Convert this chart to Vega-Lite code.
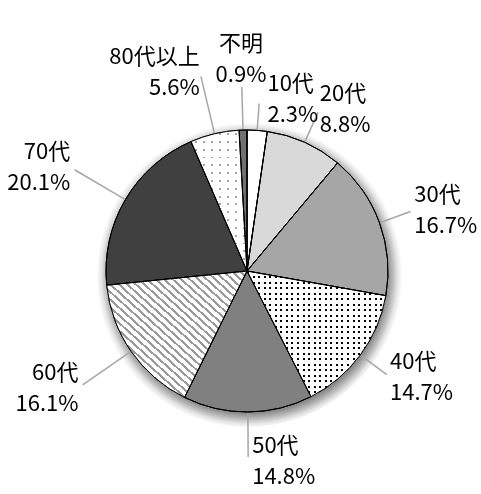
{
  "$schema": "https://vega.github.io/schema/vega-lite/v6.json",
  "width": 468,
  "height": 446,
  "autosize": {"type": "none"},
  "padding": {"left": 13, "top": 48, "right": 0, "bottom": 0},
  "background": "#ffffff",
  "view": {"stroke": null},
  "config": {"text": {"font": "Noto Sans CJK JP", "fontSize": 22, "lineHeight": 31, "lineBreak": "\n", "fill": "#000000", "baseline": "middle", "dy": -15}},
  "data": {"values": [
    {"cat": "10代", "v": 2.3, "i": 1, "label": "10代\n2.3%"},
    {"cat": "20代", "v": 8.8, "i": 2, "label": "20代\n8.8%"},
    {"cat": "30代", "v": 16.7, "i": 3, "label": "30代\n16.7%"},
    {"cat": "40代", "v": 14.7, "i": 4, "label": "40代\n14.7%"},
    {"cat": "50代", "v": 14.8, "i": 5, "label": "50代\n14.8%"},
    {"cat": "60代", "v": 16.1, "i": 6, "label": "60代\n16.1%"},
    {"cat": "70代", "v": 20.1, "i": 7, "label": "70代\n20.1%"},
    {"cat": "80代以上", "v": 5.6, "i": 8, "label": "80代以上\n5.6%"},
    {"cat": "不明", "v": 0.9, "i": 9, "label": "不明\n0.9%"}
  ]},
  "transform": [
    {"stack": "v", "groupby": [], "sort": [{"field": "i", "order": "ascending"}], "as": ["s", "e"]},
    {"fold": ["s", "e"], "as": ["k", "a"]},
    {"aggregate": [{"op": "mean", "field": "a", "as": "mid"}, {"op": "min", "field": "a", "as": "s0"}, {"op": "max", "field": "a", "as": "e0"}], "groupby": ["cat", "v", "i", "label"]}
  ],
  "layer": [
    {
      "data": {"values": [{"glow": 1}]},
      "mark": {"type": "arc", "theta": 0, "theta2": 6.2832, "outerRadius": 156, "innerRadius": 0,
        "fill": {"gradient": "radial", "x1": 0.5, "y1": 0.5, "r1": 0, "x2": 0.508, "y2": 0.515, "r2": 0.49,
          "stops": [{"offset": 0, "color": "#888888"}, {"offset": 0.9, "color": "#888888"}, {"offset": 0.935, "color": "#b5b5b5"}, {"offset": 0.97, "color": "#e6e6e6"}, {"offset": 1, "color": "#ffffff"}]}},
      "encoding": {}
    },
    {
      "mark": {"type": "arc", "outerRadius": 141, "stroke": "#000000", "strokeWidth": 1},
      "encoding": {
        "theta": {"field": "v", "type": "quantitative", "stack": true, "scale": {"domain": [0, 100]}},
        "order": {"field": "i", "type": "quantitative"},
        "color": {"field": "cat", "type": "nominal", "legend": null,
          "scale": {"domain": ["10代", "20代", "30代", "40代", "50代", "60代", "70代", "80代以上", "不明"],
            "range": ["#ffffff", "#d9d9d9", "#a6a6a6", "#ffffff", "#808080", "#ffffff", "#404040", "#ffffff", "#707070"]}}
      }
    },
    {
      "transform": [{"filter": {"field": "cat", "equal": "40代"}}],
      "layer": [
        {"mark": {"type": "arc", "outerRadius": 141,
          "fill": {"gradient": "linear", "x1": 0, "y1": 0, "x2": 0, "y2": 1, "stops": [
            {"offset": 0, "color": "#000"}, {"offset": 0.0157, "color": "#000"}, {"offset": 0.0157, "color": "#fff"}, {"offset": 0.0435, "color": "#fff"},
            {"offset": 0.0435, "color": "#000"}, {"offset": 0.0591, "color": "#000"}, {"offset": 0.0591, "color": "#fff"}, {"offset": 0.087, "color": "#fff"},
            {"offset": 0.087, "color": "#000"}, {"offset": 0.1026, "color": "#000"}, {"offset": 0.1026, "color": "#fff"}, {"offset": 0.1304, "color": "#fff"},
            {"offset": 0.1304, "color": "#000"}, {"offset": 0.1461, "color": "#000"}, {"offset": 0.1461, "color": "#fff"}, {"offset": 0.1739, "color": "#fff"},
            {"offset": 0.1739, "color": "#000"}, {"offset": 0.1896, "color": "#000"}, {"offset": 0.1896, "color": "#fff"}, {"offset": 0.2174, "color": "#fff"},
            {"offset": 0.2174, "color": "#000"}, {"offset": 0.233, "color": "#000"}, {"offset": 0.233, "color": "#fff"}, {"offset": 0.2609, "color": "#fff"},
            {"offset": 0.2609, "color": "#000"}, {"offset": 0.2765, "color": "#000"}, {"offset": 0.2765, "color": "#fff"}, {"offset": 0.3043, "color": "#fff"},
            {"offset": 0.3043, "color": "#000"}, {"offset": 0.32, "color": "#000"}, {"offset": 0.32, "color": "#fff"}, {"offset": 0.3478, "color": "#fff"},
            {"offset": 0.3478, "color": "#000"}, {"offset": 0.3635, "color": "#000"}, {"offset": 0.3635, "color": "#fff"}, {"offset": 0.3913, "color": "#fff"},
            {"offset": 0.3913, "color": "#000"}, {"offset": 0.407, "color": "#000"}, {"offset": 0.407, "color": "#fff"}, {"offset": 0.4348, "color": "#fff"},
            {"offset": 0.4348, "color": "#000"}, {"offset": 0.4504, "color": "#000"}, {"offset": 0.4504, "color": "#fff"}, {"offset": 0.4783, "color": "#fff"},
            {"offset": 0.4783, "color": "#000"}, {"offset": 0.4939, "color": "#000"}, {"offset": 0.4939, "color": "#fff"}, {"offset": 0.5217, "color": "#fff"},
            {"offset": 0.5217, "color": "#000"}, {"offset": 0.5374, "color": "#000"}, {"offset": 0.5374, "color": "#fff"}, {"offset": 0.5652, "color": "#fff"},
            {"offset": 0.5652, "color": "#000"}, {"offset": 0.5809, "color": "#000"}, {"offset": 0.5809, "color": "#fff"}, {"offset": 0.6087, "color": "#fff"},
            {"offset": 0.6087, "color": "#000"}, {"offset": 0.6243, "color": "#000"}, {"offset": 0.6243, "color": "#fff"}, {"offset": 0.6522, "color": "#fff"},
            {"offset": 0.6522, "color": "#000"}, {"offset": 0.6678, "color": "#000"}, {"offset": 0.6678, "color": "#fff"}, {"offset": 0.6957, "color": "#fff"},
            {"offset": 0.6957, "color": "#000"}, {"offset": 0.7113, "color": "#000"}, {"offset": 0.7113, "color": "#fff"}, {"offset": 0.7391, "color": "#fff"},
            {"offset": 0.7391, "color": "#000"}, {"offset": 0.7548, "color": "#000"}, {"offset": 0.7548, "color": "#fff"}, {"offset": 0.7826, "color": "#fff"},
            {"offset": 0.7826, "color": "#000"}, {"offset": 0.7983, "color": "#000"}, {"offset": 0.7983, "color": "#fff"}, {"offset": 0.8261, "color": "#fff"},
            {"offset": 0.8261, "color": "#000"}, {"offset": 0.8417, "color": "#000"}, {"offset": 0.8417, "color": "#fff"}, {"offset": 0.8696, "color": "#fff"},
            {"offset": 0.8696, "color": "#000"}, {"offset": 0.8852, "color": "#000"}, {"offset": 0.8852, "color": "#fff"}, {"offset": 0.913, "color": "#fff"},
            {"offset": 0.913, "color": "#000"}, {"offset": 0.9287, "color": "#000"}, {"offset": 0.9287, "color": "#fff"}, {"offset": 0.9565, "color": "#fff"},
            {"offset": 0.9565, "color": "#000"}, {"offset": 0.9722, "color": "#000"}, {"offset": 0.9722, "color": "#fff"}, {"offset": 1, "color": "#fff"}
          ]}},
          "encoding": {"theta": {"field": "s0", "type": "quantitative", "stack": null, "scale": {"domain": [0, 100]}}, "theta2": {"field": "e0"}}},
        {"mark": {"type": "arc", "outerRadius": 141, "blend": "screen",
          "fill": {"gradient": "linear", "x1": 0, "y1": 0, "x2": 1, "y2": 0, "stops": [
            {"offset": 0, "color": "#000"}, {"offset": 0.0144, "color": "#000"}, {"offset": 0.0144, "color": "#fff"}, {"offset": 0.04, "color": "#fff"},
            {"offset": 0.04, "color": "#000"}, {"offset": 0.0544, "color": "#000"}, {"offset": 0.0544, "color": "#fff"}, {"offset": 0.08, "color": "#fff"},
            {"offset": 0.08, "color": "#000"}, {"offset": 0.0944, "color": "#000"}, {"offset": 0.0944, "color": "#fff"}, {"offset": 0.12, "color": "#fff"},
            {"offset": 0.12, "color": "#000"}, {"offset": 0.1344, "color": "#000"}, {"offset": 0.1344, "color": "#fff"}, {"offset": 0.16, "color": "#fff"},
            {"offset": 0.16, "color": "#000"}, {"offset": 0.1744, "color": "#000"}, {"offset": 0.1744, "color": "#fff"}, {"offset": 0.2, "color": "#fff"},
            {"offset": 0.2, "color": "#000"}, {"offset": 0.2144, "color": "#000"}, {"offset": 0.2144, "color": "#fff"}, {"offset": 0.24, "color": "#fff"},
            {"offset": 0.24, "color": "#000"}, {"offset": 0.2544, "color": "#000"}, {"offset": 0.2544, "color": "#fff"}, {"offset": 0.28, "color": "#fff"},
            {"offset": 0.28, "color": "#000"}, {"offset": 0.2944, "color": "#000"}, {"offset": 0.2944, "color": "#fff"}, {"offset": 0.32, "color": "#fff"},
            {"offset": 0.32, "color": "#000"}, {"offset": 0.3344, "color": "#000"}, {"offset": 0.3344, "color": "#fff"}, {"offset": 0.36, "color": "#fff"},
            {"offset": 0.36, "color": "#000"}, {"offset": 0.3744, "color": "#000"}, {"offset": 0.3744, "color": "#fff"}, {"offset": 0.4, "color": "#fff"},
            {"offset": 0.4, "color": "#000"}, {"offset": 0.4144, "color": "#000"}, {"offset": 0.4144, "color": "#fff"}, {"offset": 0.44, "color": "#fff"},
            {"offset": 0.44, "color": "#000"}, {"offset": 0.4544, "color": "#000"}, {"offset": 0.4544, "color": "#fff"}, {"offset": 0.48, "color": "#fff"},
            {"offset": 0.48, "color": "#000"}, {"offset": 0.4944, "color": "#000"}, {"offset": 0.4944, "color": "#fff"}, {"offset": 0.52, "color": "#fff"},
            {"offset": 0.52, "color": "#000"}, {"offset": 0.5344, "color": "#000"}, {"offset": 0.5344, "color": "#fff"}, {"offset": 0.56, "color": "#fff"},
            {"offset": 0.56, "color": "#000"}, {"offset": 0.5744, "color": "#000"}, {"offset": 0.5744, "color": "#fff"}, {"offset": 0.6, "color": "#fff"},
            {"offset": 0.6, "color": "#000"}, {"offset": 0.6144, "color": "#000"}, {"offset": 0.6144, "color": "#fff"}, {"offset": 0.64, "color": "#fff"},
            {"offset": 0.64, "color": "#000"}, {"offset": 0.6544, "color": "#000"}, {"offset": 0.6544, "color": "#fff"}, {"offset": 0.68, "color": "#fff"},
            {"offset": 0.68, "color": "#000"}, {"offset": 0.6944, "color": "#000"}, {"offset": 0.6944, "color": "#fff"}, {"offset": 0.72, "color": "#fff"},
            {"offset": 0.72, "color": "#000"}, {"offset": 0.7344, "color": "#000"}, {"offset": 0.7344, "color": "#fff"}, {"offset": 0.76, "color": "#fff"},
            {"offset": 0.76, "color": "#000"}, {"offset": 0.7744, "color": "#000"}, {"offset": 0.7744, "color": "#fff"}, {"offset": 0.8, "color": "#fff"},
            {"offset": 0.8, "color": "#000"}, {"offset": 0.8144, "color": "#000"}, {"offset": 0.8144, "color": "#fff"}, {"offset": 0.84, "color": "#fff"},
            {"offset": 0.84, "color": "#000"}, {"offset": 0.8544, "color": "#000"}, {"offset": 0.8544, "color": "#fff"}, {"offset": 0.88, "color": "#fff"},
            {"offset": 0.88, "color": "#000"}, {"offset": 0.8944, "color": "#000"}, {"offset": 0.8944, "color": "#fff"}, {"offset": 0.92, "color": "#fff"},
            {"offset": 0.92, "color": "#000"}, {"offset": 0.9344, "color": "#000"}, {"offset": 0.9344, "color": "#fff"}, {"offset": 0.96, "color": "#fff"},
            {"offset": 0.96, "color": "#000"}, {"offset": 0.9744, "color": "#000"}, {"offset": 0.9744, "color": "#fff"}, {"offset": 1, "color": "#fff"}
          ]}},
          "encoding": {"theta": {"field": "s0", "type": "quantitative", "stack": null, "scale": {"domain": [0, 100]}}, "theta2": {"field": "e0"}}}
      ]
    },
    {
      "transform": [{"filter": {"field": "cat", "equal": "60代"}}],
      "mark": {"type": "arc", "outerRadius": 141,
        "fill": {"gradient": "linear", "x1": 0, "y1": 1, "x2": 1, "y2": 0, "stops": [
          {"offset": 0, "color": "#999"}, {"offset": 0.0106, "color": "#999"}, {"offset": 0.0106, "color": "#fff"}, {"offset": 0.0303, "color": "#fff"},
          {"offset": 0.0303, "color": "#999"}, {"offset": 0.0409, "color": "#999"}, {"offset": 0.0409, "color": "#fff"}, {"offset": 0.0606, "color": "#fff"},
          {"offset": 0.0606, "color": "#999"}, {"offset": 0.0712, "color": "#999"}, {"offset": 0.0712, "color": "#fff"}, {"offset": 0.0909, "color": "#fff"},
          {"offset": 0.0909, "color": "#999"}, {"offset": 0.1015, "color": "#999"}, {"offset": 0.1015, "color": "#fff"}, {"offset": 0.1212, "color": "#fff"},
          {"offset": 0.1212, "color": "#999"}, {"offset": 0.1318, "color": "#999"}, {"offset": 0.1318, "color": "#fff"}, {"offset": 0.1515, "color": "#fff"},
          {"offset": 0.1515, "color": "#999"}, {"offset": 0.1621, "color": "#999"}, {"offset": 0.1621, "color": "#fff"}, {"offset": 0.1818, "color": "#fff"},
          {"offset": 0.1818, "color": "#999"}, {"offset": 0.1924, "color": "#999"}, {"offset": 0.1924, "color": "#fff"}, {"offset": 0.2121, "color": "#fff"},
          {"offset": 0.2121, "color": "#999"}, {"offset": 0.2227, "color": "#999"}, {"offset": 0.2227, "color": "#fff"}, {"offset": 0.2424, "color": "#fff"},
          {"offset": 0.2424, "color": "#999"}, {"offset": 0.253, "color": "#999"}, {"offset": 0.253, "color": "#fff"}, {"offset": 0.2727, "color": "#fff"},
          {"offset": 0.2727, "color": "#999"}, {"offset": 0.2833, "color": "#999"}, {"offset": 0.2833, "color": "#fff"}, {"offset": 0.303, "color": "#fff"},
          {"offset": 0.303, "color": "#999"}, {"offset": 0.3136, "color": "#999"}, {"offset": 0.3136, "color": "#fff"}, {"offset": 0.3333, "color": "#fff"},
          {"offset": 0.3333, "color": "#999"}, {"offset": 0.3439, "color": "#999"}, {"offset": 0.3439, "color": "#fff"}, {"offset": 0.3636, "color": "#fff"},
          {"offset": 0.3636, "color": "#999"}, {"offset": 0.3742, "color": "#999"}, {"offset": 0.3742, "color": "#fff"}, {"offset": 0.3939, "color": "#fff"},
          {"offset": 0.3939, "color": "#999"}, {"offset": 0.4045, "color": "#999"}, {"offset": 0.4045, "color": "#fff"}, {"offset": 0.4242, "color": "#fff"},
          {"offset": 0.4242, "color": "#999"}, {"offset": 0.4348, "color": "#999"}, {"offset": 0.4348, "color": "#fff"}, {"offset": 0.4545, "color": "#fff"},
          {"offset": 0.4545, "color": "#999"}, {"offset": 0.4651, "color": "#999"}, {"offset": 0.4651, "color": "#fff"}, {"offset": 0.4848, "color": "#fff"},
          {"offset": 0.4848, "color": "#999"}, {"offset": 0.4954, "color": "#999"}, {"offset": 0.4954, "color": "#fff"}, {"offset": 0.5152, "color": "#fff"},
          {"offset": 0.5152, "color": "#999"}, {"offset": 0.5258, "color": "#999"}, {"offset": 0.5258, "color": "#fff"}, {"offset": 0.5455, "color": "#fff"},
          {"offset": 0.5455, "color": "#999"}, {"offset": 0.5561, "color": "#999"}, {"offset": 0.5561, "color": "#fff"}, {"offset": 0.5758, "color": "#fff"},
          {"offset": 0.5758, "color": "#999"}, {"offset": 0.5864, "color": "#999"}, {"offset": 0.5864, "color": "#fff"}, {"offset": 0.6061, "color": "#fff"},
          {"offset": 0.6061, "color": "#999"}, {"offset": 0.6167, "color": "#999"}, {"offset": 0.6167, "color": "#fff"}, {"offset": 0.6364, "color": "#fff"},
          {"offset": 0.6364, "color": "#999"}, {"offset": 0.647, "color": "#999"}, {"offset": 0.647, "color": "#fff"}, {"offset": 0.6667, "color": "#fff"},
          {"offset": 0.6667, "color": "#999"}, {"offset": 0.6773, "color": "#999"}, {"offset": 0.6773, "color": "#fff"}, {"offset": 0.697, "color": "#fff"},
          {"offset": 0.697, "color": "#999"}, {"offset": 0.7076, "color": "#999"}, {"offset": 0.7076, "color": "#fff"}, {"offset": 0.7273, "color": "#fff"},
          {"offset": 0.7273, "color": "#999"}, {"offset": 0.7379, "color": "#999"}, {"offset": 0.7379, "color": "#fff"}, {"offset": 0.7576, "color": "#fff"},
          {"offset": 0.7576, "color": "#999"}, {"offset": 0.7682, "color": "#999"}, {"offset": 0.7682, "color": "#fff"}, {"offset": 0.7879, "color": "#fff"},
          {"offset": 0.7879, "color": "#999"}, {"offset": 0.7985, "color": "#999"}, {"offset": 0.7985, "color": "#fff"}, {"offset": 0.8182, "color": "#fff"},
          {"offset": 0.8182, "color": "#999"}, {"offset": 0.8288, "color": "#999"}, {"offset": 0.8288, "color": "#fff"}, {"offset": 0.8485, "color": "#fff"},
          {"offset": 0.8485, "color": "#999"}, {"offset": 0.8591, "color": "#999"}, {"offset": 0.8591, "color": "#fff"}, {"offset": 0.8788, "color": "#fff"},
          {"offset": 0.8788, "color": "#999"}, {"offset": 0.8894, "color": "#999"}, {"offset": 0.8894, "color": "#fff"}, {"offset": 0.9091, "color": "#fff"},
          {"offset": 0.9091, "color": "#999"}, {"offset": 0.9197, "color": "#999"}, {"offset": 0.9197, "color": "#fff"}, {"offset": 0.9394, "color": "#fff"},
          {"offset": 0.9394, "color": "#999"}, {"offset": 0.95, "color": "#999"}, {"offset": 0.95, "color": "#fff"}, {"offset": 0.9697, "color": "#fff"},
          {"offset": 0.9697, "color": "#999"}, {"offset": 0.9803, "color": "#999"}, {"offset": 0.9803, "color": "#fff"}, {"offset": 1, "color": "#fff"}
        ]}},
      "encoding": {"theta": {"field": "s0", "type": "quantitative", "stack": null, "scale": {"domain": [0, 100]}}, "theta2": {"field": "e0"}}
    },
    {
      "transform": [{"filter": {"field": "cat", "equal": "80代以上"}}],
      "layer": [
        {"mark": {"type": "arc", "outerRadius": 141,
          "fill": {"gradient": "linear", "x1": 0, "y1": 0, "x2": 0, "y2": 1, "stops": [
            {"offset": 0.02, "color": "#fff"}, {"offset": 0.02, "color": "#666"}, {"offset": 0.0339, "color": "#666"}, {"offset": 0.0339, "color": "#fff"},
            {"offset": 0.0756, "color": "#fff"}, {"offset": 0.0756, "color": "#666"}, {"offset": 0.0894, "color": "#666"}, {"offset": 0.0894, "color": "#fff"},
            {"offset": 0.1311, "color": "#fff"}, {"offset": 0.1311, "color": "#666"}, {"offset": 0.145, "color": "#666"}, {"offset": 0.145, "color": "#fff"},
            {"offset": 0.1867, "color": "#fff"}, {"offset": 0.1867, "color": "#666"}, {"offset": 0.2006, "color": "#666"}, {"offset": 0.2006, "color": "#fff"},
            {"offset": 0.2422, "color": "#fff"}, {"offset": 0.2422, "color": "#666"}, {"offset": 0.2561, "color": "#666"}, {"offset": 0.2561, "color": "#fff"},
            {"offset": 0.2978, "color": "#fff"}, {"offset": 0.2978, "color": "#666"}, {"offset": 0.3117, "color": "#666"}, {"offset": 0.3117, "color": "#fff"},
            {"offset": 0.3533, "color": "#fff"}, {"offset": 0.3533, "color": "#666"}, {"offset": 0.3672, "color": "#666"}, {"offset": 0.3672, "color": "#fff"},
            {"offset": 0.4089, "color": "#fff"}, {"offset": 0.4089, "color": "#666"}, {"offset": 0.4228, "color": "#666"}, {"offset": 0.4228, "color": "#fff"},
            {"offset": 0.4644, "color": "#fff"}, {"offset": 0.4644, "color": "#666"}, {"offset": 0.4783, "color": "#666"}, {"offset": 0.4783, "color": "#fff"},
            {"offset": 0.52, "color": "#fff"}, {"offset": 0.52, "color": "#666"}, {"offset": 0.5339, "color": "#666"}, {"offset": 0.5339, "color": "#fff"},
            {"offset": 0.5756, "color": "#fff"}, {"offset": 0.5756, "color": "#666"}, {"offset": 0.5894, "color": "#666"}, {"offset": 0.5894, "color": "#fff"},
            {"offset": 0.6311, "color": "#fff"}, {"offset": 0.6311, "color": "#666"}, {"offset": 0.645, "color": "#666"}, {"offset": 0.645, "color": "#fff"},
            {"offset": 0.6867, "color": "#fff"}, {"offset": 0.6867, "color": "#666"}, {"offset": 0.7006, "color": "#666"}, {"offset": 0.7006, "color": "#fff"},
            {"offset": 0.7422, "color": "#fff"}, {"offset": 0.7422, "color": "#666"}, {"offset": 0.7561, "color": "#666"}, {"offset": 0.7561, "color": "#fff"},
            {"offset": 0.7978, "color": "#fff"}, {"offset": 0.7978, "color": "#666"}, {"offset": 0.8117, "color": "#666"}, {"offset": 0.8117, "color": "#fff"},
            {"offset": 0.8533, "color": "#fff"}, {"offset": 0.8533, "color": "#666"}, {"offset": 0.8672, "color": "#666"}, {"offset": 0.8672, "color": "#fff"},
            {"offset": 0.9089, "color": "#fff"}, {"offset": 0.9089, "color": "#666"}, {"offset": 0.9228, "color": "#666"}, {"offset": 0.9228, "color": "#fff"},
            {"offset": 0.9644, "color": "#fff"}, {"offset": 0.9644, "color": "#666"}, {"offset": 0.9783, "color": "#666"}, {"offset": 0.9783, "color": "#fff"}
          ]}},
          "encoding": {"theta": {"field": "s0", "type": "quantitative", "stack": null, "scale": {"domain": [0, 100]}}, "theta2": {"field": "e0"}}},
        {"mark": {"type": "arc", "outerRadius": 141, "blend": "screen",
          "fill": {"gradient": "linear", "x1": 0, "y1": 0, "x2": 1, "y2": 0, "stops": [
            {"offset": 0.07, "color": "#fff"}, {"offset": 0.07, "color": "#666"}, {"offset": 0.1057, "color": "#666"}, {"offset": 0.1057, "color": "#fff"},
            {"offset": 0.2129, "color": "#fff"}, {"offset": 0.2129, "color": "#666"}, {"offset": 0.2486, "color": "#666"}, {"offset": 0.2486, "color": "#fff"},
            {"offset": 0.3557, "color": "#fff"}, {"offset": 0.3557, "color": "#666"}, {"offset": 0.3914, "color": "#666"}, {"offset": 0.3914, "color": "#fff"},
            {"offset": 0.4986, "color": "#fff"}, {"offset": 0.4986, "color": "#666"}, {"offset": 0.5343, "color": "#666"}, {"offset": 0.5343, "color": "#fff"},
            {"offset": 0.6414, "color": "#fff"}, {"offset": 0.6414, "color": "#666"}, {"offset": 0.6771, "color": "#666"}, {"offset": 0.6771, "color": "#fff"},
            {"offset": 0.7843, "color": "#fff"}, {"offset": 0.7843, "color": "#666"}, {"offset": 0.82, "color": "#666"}, {"offset": 0.82, "color": "#fff"},
            {"offset": 0.9271, "color": "#fff"}, {"offset": 0.9271, "color": "#666"}, {"offset": 0.9629, "color": "#666"}, {"offset": 0.9629, "color": "#fff"}
          ]}},
          "encoding": {"theta": {"field": "s0", "type": "quantitative", "stack": null, "scale": {"domain": [0, 100]}}, "theta2": {"field": "e0"}}}
      ]
    },
    {
      "mark": {"type": "arc", "outerRadius": 141, "stroke": "#000000", "strokeWidth": 1, "fill": null},
      "encoding": {
        "theta": {"field": "s0", "type": "quantitative", "stack": null, "scale": {"domain": [0, 100]}},
        "theta2": {"field": "e0"}
      }
    },
    {
      "transform": [{"filter": {"field": "cat", "oneOf": ["20代", "30代", "40代"]}}],
      "layer": [
        {"mark": {"type": "arc", "innerRadius": 142, "outerRadius": 174, "stroke": "#a6a6a6", "strokeWidth": 1.5, "fill": null},
          "encoding": {"theta": {"field": "mid", "type": "quantitative", "stack": null, "scale": {"domain": [0, 100]}}, "theta2": {"field": "mid"}}},
        {"mark": {"type": "text", "radius": 178, "align": "left"},
          "encoding": {"theta": {"field": "mid", "type": "quantitative", "stack": null, "scale": {"domain": [0, 100]}}, "text": {"field": "label", "type": "nominal"}}}
      ]
    },
    {
      "transform": [{"filter": {"field": "cat", "equal": "10代"}}],
      "layer": [
        {"mark": {"type": "arc", "innerRadius": 142, "outerRadius": 168, "stroke": "#a6a6a6", "strokeWidth": 1.5, "fill": null},
          "encoding": {"theta": {"field": "mid", "type": "quantitative", "stack": null, "scale": {"domain": [0, 100]}}, "theta2": {"field": "mid"}}},
        {"mark": {"type": "text", "radius": 172, "align": "left", "dx": 8},
          "encoding": {"theta": {"field": "mid", "type": "quantitative", "stack": null, "scale": {"domain": [0, 100]}}, "text": {"field": "label", "type": "nominal"}}}
      ]
    },
    {
      "transform": [{"filter": {"field": "cat", "equal": "不明"}}],
      "layer": [
        {"mark": {"type": "arc", "innerRadius": 142, "outerRadius": 184, "stroke": "#a6a6a6", "strokeWidth": 1.5, "fill": null},
          "encoding": {"theta": {"field": "mid", "type": "quantitative", "stack": null, "scale": {"domain": [0, 100]}}, "theta2": {"field": "mid"}}},
        {"mark": {"type": "text", "radius": 212, "align": "center"},
          "encoding": {"theta": {"field": "mid", "type": "quantitative", "stack": null, "scale": {"domain": [0, 100]}}, "text": {"field": "label", "type": "nominal"}}}
      ]
    },
    {
      "transform": [{"filter": {"field": "cat", "equal": "50代"}}],
      "layer": [
        {"mark": {"type": "arc", "innerRadius": 142, "outerRadius": 186, "stroke": "#a6a6a6", "strokeWidth": 1.5, "fill": null},
          "encoding": {"theta": {"field": "mid", "type": "quantitative", "stack": null, "scale": {"domain": [0, 100]}}, "theta2": {"field": "mid"}}},
        {"mark": {"type": "text", "radius": 190, "align": "left", "dx": 4},
          "encoding": {"theta": {"field": "mid", "type": "quantitative", "stack": null, "scale": {"domain": [0, 100]}}, "text": {"field": "label", "type": "nominal"}}}
      ]
    },
    {
      "transform": [{"filter": {"field": "cat", "oneOf": ["60代", "70代", "80代以上"]}}],
      "layer": [
        {"mark": {"type": "arc", "innerRadius": 142, "outerRadius": 200, "stroke": "#a6a6a6", "strokeWidth": 1.5, "fill": null},
          "encoding": {"theta": {"field": "mid", "type": "quantitative", "stack": null, "scale": {"domain": [0, 100]}}, "theta2": {"field": "mid"}}},
        {"mark": {"type": "text", "radius": 205, "align": "right"},
          "encoding": {"theta": {"field": "mid", "type": "quantitative", "stack": null, "scale": {"domain": [0, 100]}}, "text": {"field": "label", "type": "nominal"}}}
      ]
    }
  ]
}
